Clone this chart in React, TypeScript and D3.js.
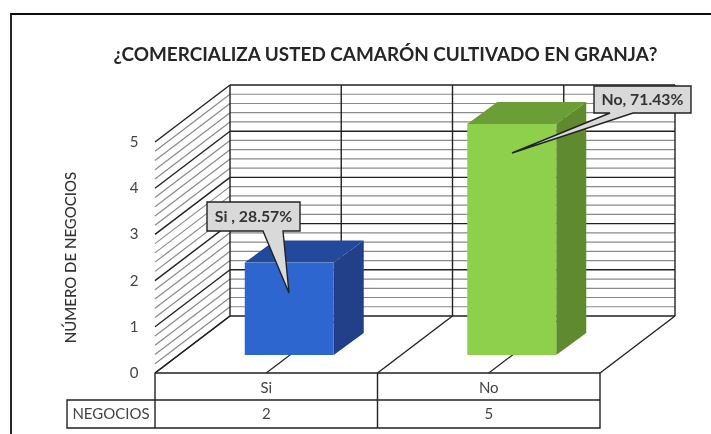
import React from "react";
import * as d3 from "d3";

const title = "¿COMERCIALIZA USTED CAMARÓN CULTIVADO EN GRANJA?";
const yTitle = "NÚMERO DE NEGOCIOS";
const categories = ["Si", "No"];
const values = [2, 5];
const seriesName = "NEGOCIOS";
const yTicks = [0, 1, 2, 3, 4, 5];
const minorTicks = d3.range(0, 25).map((i) => i).filter((i) => i % 5 !== 0);
const callouts = ["Si , 28.57%", "No, 71.43%"];
const faces = [
  { front: "#2e66d0", top: "#234a9c", side: "#20418a" },
  { front: "#8ed04b", top: "#6c9e38", side: "#5e8a2e" },
];

const W = 711, H = 434;
const FL = 155, FR = 600, FB = 373, DX = 75, DY = -57;
const x = d3.scaleBand().domain(categories).range([FL, FR]);
const y = d3.scaleLinear().domain([0, 5]).range([0, 231]);
const DARK = "#222222", GREY = "#8a8a8a";
const FONT = "Lato, 'Open Sans', sans-serif";

const boxes = [
  { x0: 207, x1: 300, y0: 202, y1: 231, b0: 263, b1: 283, tx: 289, ty: 293 },
  { x0: 594, x1: 691, y0: 86, y1: 113, b0: 610, b1: 633, tx: 512, ty: 153 },
];

export default function App() {
  const bw = x.bandwidth();
  const barW = 89;
  const barD = { dx: 30, dy: -22 };
  const floorOff = { dx: 23, dy: -18 };
  return (
    <svg width={W} height={H} style={{ position: "absolute", left: 0, top: 0, background: "#fff" }}>
      <defs>
        <filter id="soft" x="0" y="0" width="100%" height="100%">
          <feGaussianBlur stdDeviation="0.6" />
        </filter>
      </defs>
      <g filter="url(#soft)">
        <rect x={0} y={0} width={W} height={H} fill="#fff" />
        <path d="M11,434V14H711" fill="none" stroke="#111" strokeWidth={1.8} />
        <text x={385.5} y={61} textAnchor="middle" fontFamily={FONT} fontWeight={700} fontSize={18.9} fill="#262626">{title}</text>

        {minorTicks.map((i) => {
          const v = FB - y(i / 5);
          return (
            <g key={i} stroke={GREY} strokeWidth={1.2}>
              <line x1={FL} y1={v} x2={FL + DX} y2={v + DY} />
              <line x1={FL + DX} y1={v + DY} x2={FR + DX} y2={v + DY} />
            </g>
          );
        })}
        {yTicks.map((t) => {
          const v = FB - y(t);
          return (
            <g key={t} stroke={DARK} strokeWidth={1.4}>
              <line x1={FL} y1={v} x2={FL + DX} y2={v + DY} />
              <line x1={FL + DX} y1={v + DY} x2={FR + DX} y2={v + DY} />
            </g>
          );
        })}
        {categories.map((c) => {
          const cx = x(c)! + bw / 2 + DX;
          return <line key={c} x1={cx} y1={FB + DY} x2={cx} y2={FB + DY - y(5)} stroke={DARK} strokeWidth={1.4} />;
        })}
        {[FL, FL + bw, FR].map((px) => (
          <g key={px} stroke={DARK} strokeWidth={1.4}>
            <line x1={px} y1={FB} x2={px + DX} y2={FB + DY} />
            <line x1={px + DX} y1={FB + DY} x2={px + DX} y2={FB + DY - y(5)} />
          </g>
        ))}
        {categories.map((c) => {
          const cx = x(c)! + bw / 2;
          return <line key={c} x1={cx} y1={FB} x2={cx + DX} y2={FB + DY} stroke={DARK} strokeWidth={1.2} />;
        })}

        {categories.map((c, i) => {
          const cx = x(c)! + bw / 2 + floorOff.dx;
          const l = cx - barW / 2, r = cx + barW / 2;
          const b = FB + floorOff.dy, t = b - y(values[i]);
          const f = faces[i];
          return (
            <g key={c}>
              <path d={`M${r},${b}L${r + barD.dx},${b + barD.dy}V${t + barD.dy}L${r},${t}Z`} fill={f.side} />
              <path d={`M${l},${t}L${l + barD.dx},${t + barD.dy}H${r + barD.dx}L${r},${t}Z`} fill={f.top} />
              <rect x={l} y={t} width={barW} height={b - t} fill={f.front} />
            </g>
          );
        })}

        {callouts.map((label, i) => {
          const d = boxes[i];
          return (
            <g key={label}>
              <path
                d={`M${d.x0},${d.y0}H${d.x1}V${d.y1}H${d.b1}L${d.tx},${d.ty}L${d.b0},${d.y1}H${d.x0}Z`}
                fill="#d9d9d9"
                stroke="#222"
                strokeWidth={1.4}
              />
              <text x={(d.x0 + d.x1) / 2} y={(d.y0 + d.y1) / 2 + 5.5} textAnchor="middle" fontFamily={FONT} fontWeight={700} fontSize={15.8} fill="#333">{label}</text>
            </g>
          );
        })}

        {yTicks.map((t) => (
          <text key={t} x={134} y={FB - y(t) + 5} textAnchor="middle" fontFamily={FONT} fontSize={15} fill="#444">{t}</text>
        ))}
        <text transform="translate(76,257.5) rotate(-90)" textAnchor="middle" fontFamily={FONT} fontWeight={500} fontSize={15} fill="#333">{yTitle}</text>

        <g stroke={DARK} strokeWidth={1.4} fill="none">
          <path d={`M${FL},${FB}H${FR}V428H67V400H${FR}`} />
          <path d={`M${FL},${FB}V428M${FL + bw},${FB}V428`} />
        </g>
        {categories.map((c, i) => (
          <g key={c} textAnchor="middle" fontFamily={FONT} fontSize={15} fill="#444">
            <text x={x(c)! + bw / 2} y={393}>{c}</text>
            <text x={x(c)! + bw / 2} y={419}>{values[i]}</text>
          </g>
        ))}
        <text x={111} y={419} textAnchor="middle" fontFamily={FONT} fontSize={15} fill="#444">{seriesName}</text>
      </g>
    </svg>
  );
}
